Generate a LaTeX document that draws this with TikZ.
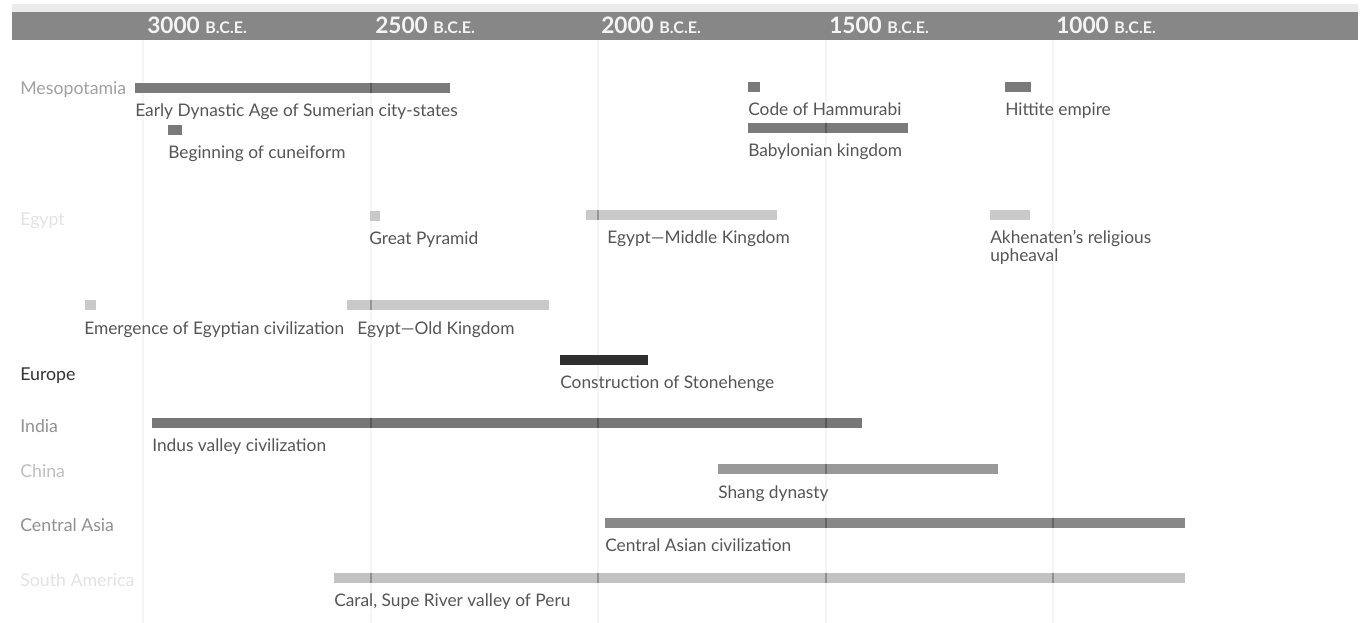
\documentclass[tikz,border=0pt]{standalone}
\usepackage{fontspec}
\setmainfont{Lato}
\usetikzlibrary{calc}
\definecolor{hdr}{HTML}{878787}
\definecolor{hdrtop}{HTML}{EBEBEB}
\definecolor{hdrtxt}{HTML}{F4F4F4}
\definecolor{gridc}{HTML}{F5F5F5}
\definecolor{lblc}{HTML}{555555}
\definecolor{meso}{HTML}{7A7A7A}
\definecolor{egyb}{HTML}{C9C9C9}
\definecolor{euro}{HTML}{2E2E2E}
\definecolor{indb}{HTML}{777777}
\definecolor{chib}{HTML}{999999}
\definecolor{casb}{HTML}{888888}
\definecolor{samb}{HTML}{C2C2C2}
\newcommand{\tbar}[5]{\node[tlbar, fill=#5, minimum width={(#3-#2)*0.75pt}] (#1) at (#2,#4) {};}
\begin{document}
\begin{tikzpicture}[x=0.75pt,y=-0.75pt,
  tlbar/.style={rectangle, inner sep=0pt, outer sep=0pt, anchor=north west, minimum height=7.5pt},
  evlbl/.style={inner sep=0pt, anchor=base west, text=lblc, font=\fontsize{13}{13.5}\selectfont},
  rowlbl/.style={inner sep=0pt, anchor=base west, font=\fontsize{13.3}{14}\selectfont},
  yrlbl/.style={inner sep=0pt, anchor=base west, text=hdrtxt, font=\bfseries\fontsize{17}{17}\selectfont},
  gridln/.style={draw=gridc, line width=0.9pt},
  tickln/.style={draw=black, opacity=0.25, line width=1.2pt}]
\useasboundingbox (0,0) rectangle (1365,623);
\fill[white] (0,0) rectangle (1365,623);
% grid
\foreach \gx in {143,371,598,826,1053} \draw[gridln] (\gx,40) -- (\gx,623);
% header
\fill[hdrtop] (12,4) rectangle (1358,12);
\node[rectangle, fill=hdr, inner sep=0pt, anchor=north west, minimum width=1009.5pt, minimum height=21pt] (hdrbar) at (12,12) {};
\node[yrlbl] (y3000) at (147,34) {3000 {\fontsize{12}{12}\selectfont B.C.E.}};
\node[yrlbl] (y2500) at (375,34) {2500 {\fontsize{12}{12}\selectfont B.C.E.}};
\node[yrlbl] (y2000) at (601,34) {2000 {\fontsize{12}{12}\selectfont B.C.E.}};
\node[yrlbl] (y1500) at (829,34) {1500 {\fontsize{12}{12}\selectfont B.C.E.}};
\node[yrlbl] (y1000) at (1056,34) {1000 {\fontsize{12}{12}\selectfont B.C.E.}};
% row labels
\node[rowlbl, text=black!37] (rmeso) at (20,95) {Mesopotamia};
\node[rowlbl, text=black!11] (regy) at (20,226) {Egypt};
\node[rowlbl, text=black!80] (reur) at (20,381) {Europe};
\node[rowlbl, text=black!43] (rind) at (20,433) {India};
\node[rowlbl, text=black!25] (rchi) at (20,478) {China};
\node[rowlbl, text=black!43] (rcas) at (20,532) {Central Asia};
\node[rowlbl, text=black!11] (rsam) at (20,587) {South America};
% bars
\tbar{bed}{135}{450}{83}{meso}
\tbar{bcun}{168}{182}{125}{meso}
\tbar{bham}{748}{760}{82}{meso}
\tbar{bbab}{748}{908}{123}{meso}
\tbar{bhit}{1005}{1031}{82}{meso}
\tbar{bpyr}{370}{380}{211}{egyb}
\tbar{bmid}{586}{777}{210}{egyb}
\tbar{bakh}{990}{1030}{210}{egyb}
\tbar{bemg}{85}{96}{300}{egyb}
\tbar{bold}{347}{549}{300}{egyb}
\tbar{bsto}{560}{648}{355}{euro}
\tbar{bind}{152}{862}{418}{indb}
\tbar{bsha}{718}{998}{464}{chib}
\tbar{bcas}{605}{1185}{518}{casb}
\tbar{bsam}{334}{1185}{573}{samb}
% grid ticks through bars
\begin{scope}
\clip (bed.north west) rectangle (bed.south east)
      (bbab.north west) rectangle (bbab.south east)
      (bmid.north west) rectangle (bmid.south east)
      (bold.north west) rectangle (bold.south east)
      (bind.north west) rectangle (bind.south east)
      (bsha.north west) rectangle (bsha.south east)
      (bcas.north west) rectangle (bcas.south east)
      (bsam.north west) rectangle (bsam.south east);
\foreach \gx in {371,598,826,1053} \draw[tickln] (\gx,40) -- (\gx,623);
\end{scope}
% event labels
\node[evlbl] (led) at ($(bed.south west)+(0,24)$) {Early Dynastic Age of Sumerian city-states};
\node[evlbl] (lcun) at ($(bcun.south west)+(0,24)$) {Beginning of cuneiform};
\node[evlbl] (lham) at ($(bham.south west)+(0,24)$) {Code of Hammurabi};
\node[evlbl] (lbab) at ($(bbab.south west)+(0,24)$) {Babylonian kingdom};
\node[evlbl] (lhit) at ($(bhit.south west)+(0,24)$) {Hittite empire};
\node[evlbl] (lpyr) at ($(bpyr.south west)+(-1,24)$) {Great Pyramid};
\node[evlbl] (lmid) at ($(bmid.south west)+(21,24)$) {Egypt—Middle Kingdom};
\node[evlbl, anchor=north west, align=left] (lakh) at ($(bakh.south west)+(0,10)$) {Akhenaten’s religious\\upheaval};
\node[evlbl] (lemg) at ($(bemg.south west)+(-1,25)$) {Emergence of Egyptian civilization};
\node[evlbl] (lold) at ($(bold.south west)+(10,25)$) {Egypt—Old Kingdom};
\node[evlbl] (lsto) at ($(bsto.south west)+(0,24)$) {Construction of Stonehenge};
\node[evlbl] (lind) at ($(bind.south west)+(0,24)$) {Indus valley civilization};
\node[evlbl] (lsha) at ($(bsha.south west)+(0,25)$) {Shang dynasty};
\node[evlbl] (lcas) at ($(bcas.south west)+(0,24)$) {Central Asian civilization};
\node[evlbl] (lsam) at ($(bsam.south west)+(0,24)$) {Caral, Supe River valley of Peru};
\end{tikzpicture}
\end{document}
